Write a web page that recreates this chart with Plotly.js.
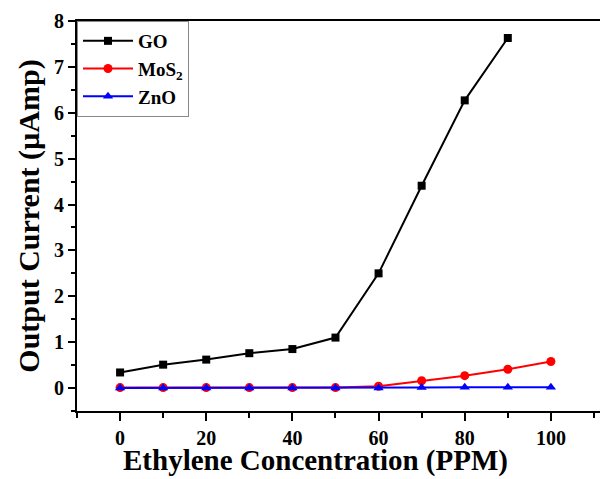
<!DOCTYPE html>
<html>
<head>
<meta charset="utf-8">
<script src="https://cdn.plot.ly/plotly-3.0.1.min.js"></script>
<style>html,body{margin:0;padding:0;background:#fff;}#chart{width:600px;height:479px;}</style>
</head>
<body>
<div id="chart"></div>
<script>
const concentration = [0, 10, 20, 30, 40, 50, 60, 70, 80, 90, 100];
const goConc = [0, 10, 20, 30, 40, 50, 60, 70, 80, 90];
const goCurrent = [0.34, 0.51, 0.62, 0.76, 0.85, 1.10, 2.50, 4.41, 6.27, 7.63];
const mos2Current = [0.01, 0.01, 0.01, 0.01, 0.01, 0.01, 0.04, 0.16, 0.27, 0.41, 0.58];
const znoCurrent = [0.0, 0.0, 0.0, 0.0, 0.0, 0.0, 0.0, 0.01, 0.02, 0.02, 0.02];
const seriesNames = ['GO', 'MoS<sub>2</sub>', 'ZnO'];
const xTitle = 'Ethylene Concentration (PPM)';
const yTitle = 'Output Current (µAmp)';

const font = 'Liberation Serif, Times New Roman, serif';
const traces = [
  {x: goConc, y: goCurrent, name: seriesNames[0], mode: 'lines+markers',
   line: {color: '#000000', width: 2}, marker: {symbol: 'square', size: 8, color: '#000000'}},
  {x: concentration, y: mos2Current, name: seriesNames[1], mode: 'lines+markers',
   line: {color: '#ff0000', width: 2}, marker: {symbol: 'circle', size: 9, color: '#ff0000'}},
  {x: concentration, y: znoCurrent, name: seriesNames[2], mode: 'lines+markers',
   line: {color: '#0000ff', width: 2}, marker: {symbol: 'triangle-up', size: 9, color: '#0000ff'}}
];

const layout = {
  width: 600, height: 479,
  margin: {l: 77, r: 0, t: 21, b: 68},
  paper_bgcolor: '#ffffff', plot_bgcolor: '#ffffff',
  font: {family: font, color: '#000000'},
  showlegend: true,
  legend: {x: 0, y: 1, xanchor: 'left', yanchor: 'top',
    bgcolor: '#ffffff', bordercolor: '#888888', borderwidth: 1,
    itemwidth: 50,
    font: {family: font, size: 19, color: '#000000', weight: 'bold'},
    tracegroupgap: 4},
  xaxis: {
    range: [-10, 111.4], showgrid: false, zeroline: false,
    showline: true, linecolor: '#000', linewidth: 2, mirror: true,
    ticks: 'outside', ticklen: 8, tickwidth: 2, tickcolor: '#000',
    tick0: 0, dtick: 20,
    minor: {dtick: 10, tick0: 0, ticks: 'outside', ticklen: 5, tickwidth: 2, tickcolor: '#000', showgrid: false},
    tickfont: {family: font, size: 20, color: '#000', weight: 'bold'}
  },
  yaxis: {
    range: [-0.5, 8], showgrid: false, zeroline: false,
    showline: true, linecolor: '#000', linewidth: 2, mirror: false,
    ticks: 'outside', ticklen: 7, tickwidth: 2, tickcolor: '#000',
    tick0: 0, dtick: 1,
    minor: {dtick: 0.5, tick0: 0, ticks: 'outside', ticklen: 4, tickwidth: 2, tickcolor: '#000', showgrid: false},
    tickfont: {family: font, size: 20, color: '#000', weight: 'bold'},
    title: {text: yTitle, font: {family: font, size: 30, color: '#000', weight: 'bold'}, standoff: 6}
  },
  annotations: [{
    text: xTitle, xref: 'paper', yref: 'paper',
    x: (315 - 77) / 523, y: (411 - 478) / 390, xanchor: 'center', yanchor: 'bottom',
    borderpad: 0,
    showarrow: false, font: {family: font, size: 29, color: '#000', weight: 'bold'}
  }]
};

Plotly.newPlot('chart', traces, layout, {displayModeBar: false, staticPlot: true});
</script>
</body>
</html>
